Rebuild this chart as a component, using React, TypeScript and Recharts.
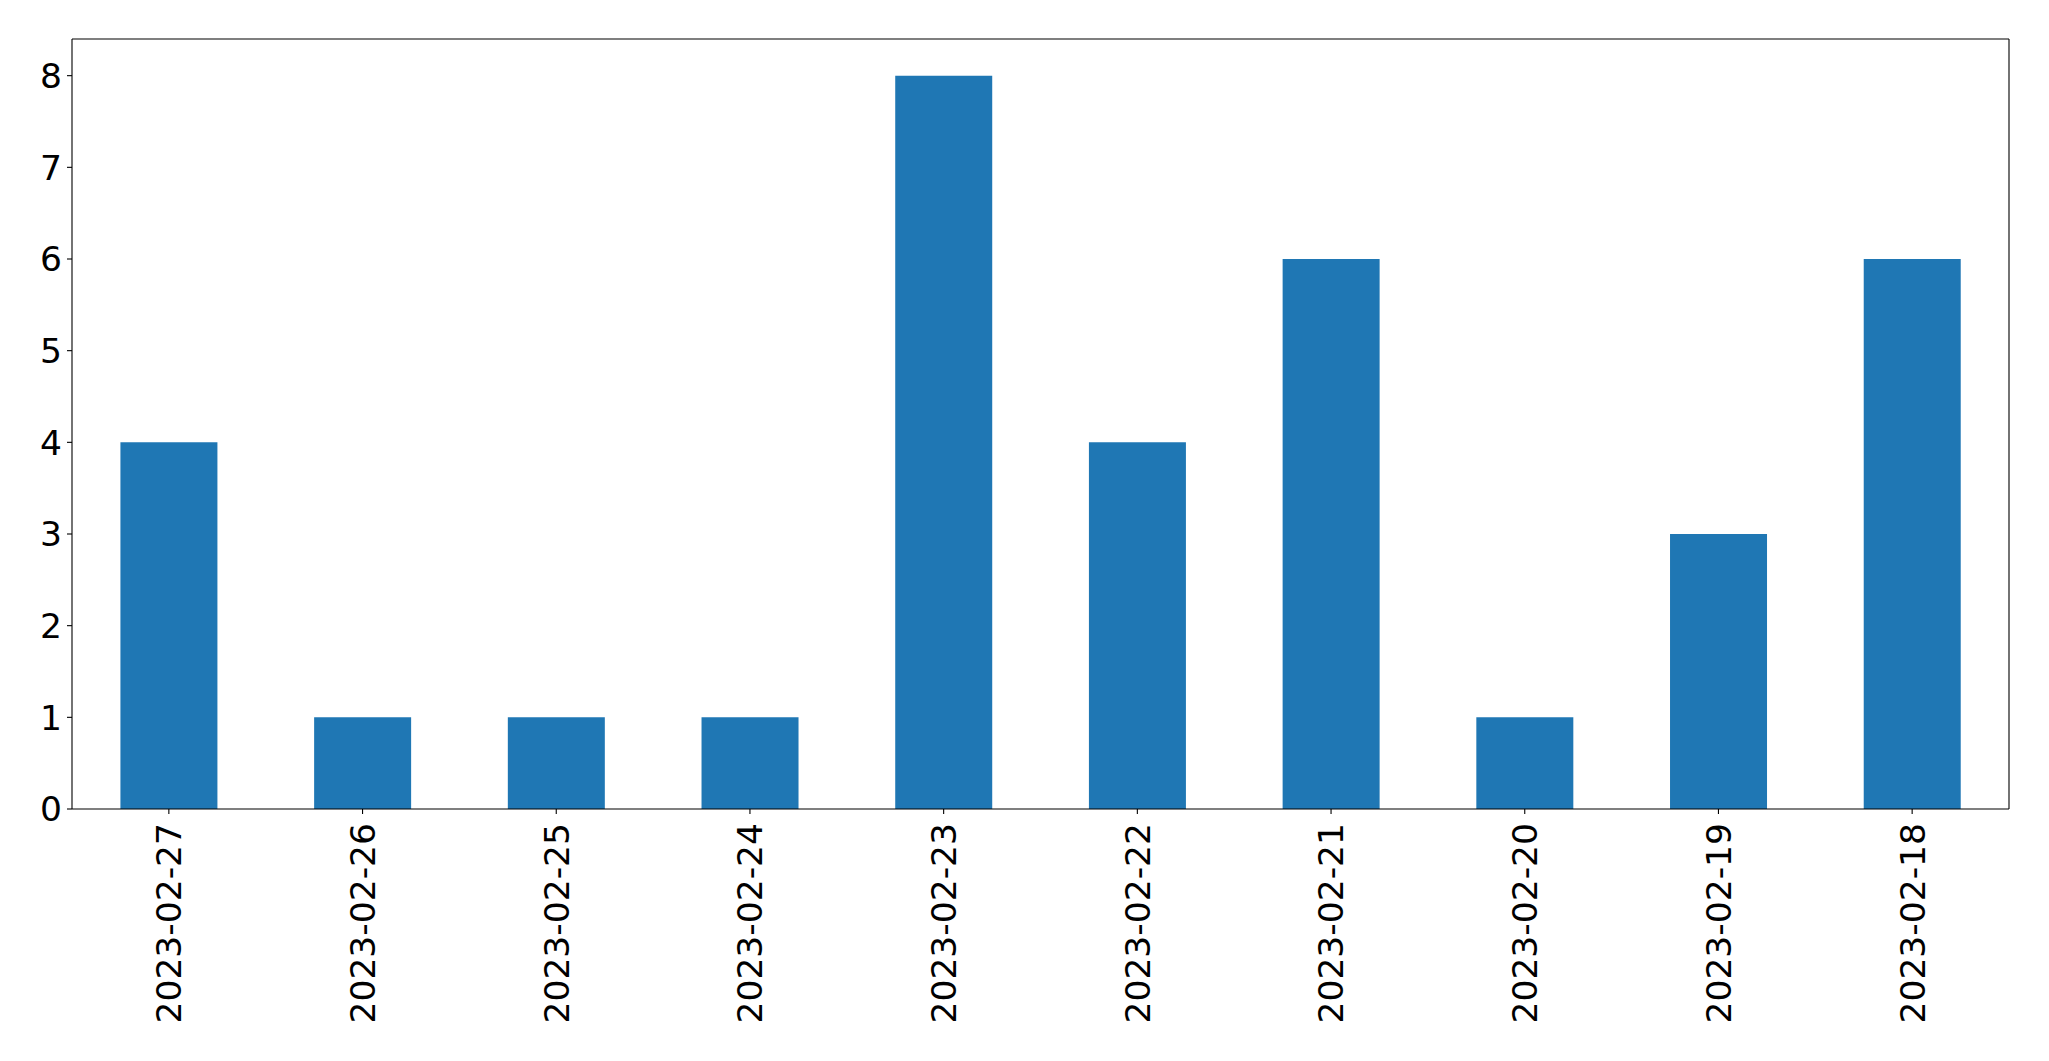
import React from "react";
import { BarChart, Bar, XAxis, YAxis, ReferenceLine } from "recharts";

const categories = [
  "2023-02-27",
  "2023-02-26",
  "2023-02-25",
  "2023-02-24",
  "2023-02-23",
  "2023-02-22",
  "2023-02-21",
  "2023-02-20",
  "2023-02-19",
  "2023-02-18",
];
const counts = [4, 1, 1, 1, 8, 4, 6, 1, 3, 6];
const yTicks = [0, 1, 2, 3, 4, 5, 6, 7, 8];
const yMax = 8.4;

const data = categories.map((c, i) => ({ date: c, count: counts[i] }));

const FONT = "DejaVu Sans";
const FS = 34.5;

const XTick = (props: any) => {
  const { x, y, payload } = props;
  const ty = y + 9;
  return (
    <text
      x={x}
      y={ty}
      transform={`rotate(-90, ${x}, ${ty})`}
      textAnchor="end"
      dy="0.36em"
      fill="#000"
      fontSize={FS}
      fontFamily={FONT}
    >
      {payload.value}
    </text>
  );
};

export default function App() {
  return (
    <div style={{ position: "absolute", left: 0, top: 0, width: 2049, height: 1061, background: "#fff" }}>
      <BarChart
        width={2049}
        height={1061}
        data={data}
        margin={{ top: 39, right: 40, left: 0, bottom: 0 }}
        barCategoryGap="25%"
      >
        <XAxis
          dataKey="date"
          height={252}
          interval={0}
          tickSize={5}
          tickMargin={0}
          axisLine={{ stroke: "#000", strokeWidth: 1.1 }}
          tickLine={{ stroke: "#000", strokeWidth: 1.1 }}
          tick={<XTick />}
        />
        <YAxis
          width={72}
          domain={[0, yMax]}
          ticks={yTicks}
          allowDataOverflow
          tickSize={5}
          tickMargin={5}
          axisLine={{ stroke: "#000", strokeWidth: 1.1 }}
          tickLine={{ stroke: "#000", strokeWidth: 1.1 }}
          tick={{ fill: "#000", fontSize: FS, fontFamily: FONT }}
        />
        <Bar dataKey="count" fill="#1f77b4" isAnimationActive={false} />
        <ReferenceLine y={yMax} stroke="#000" strokeWidth={1.1} />
        <ReferenceLine
          x={categories[categories.length - 1]}
          position="end"
          stroke="#000"
          strokeWidth={1.1}
        />
      </BarChart>
    </div>
  );
}
